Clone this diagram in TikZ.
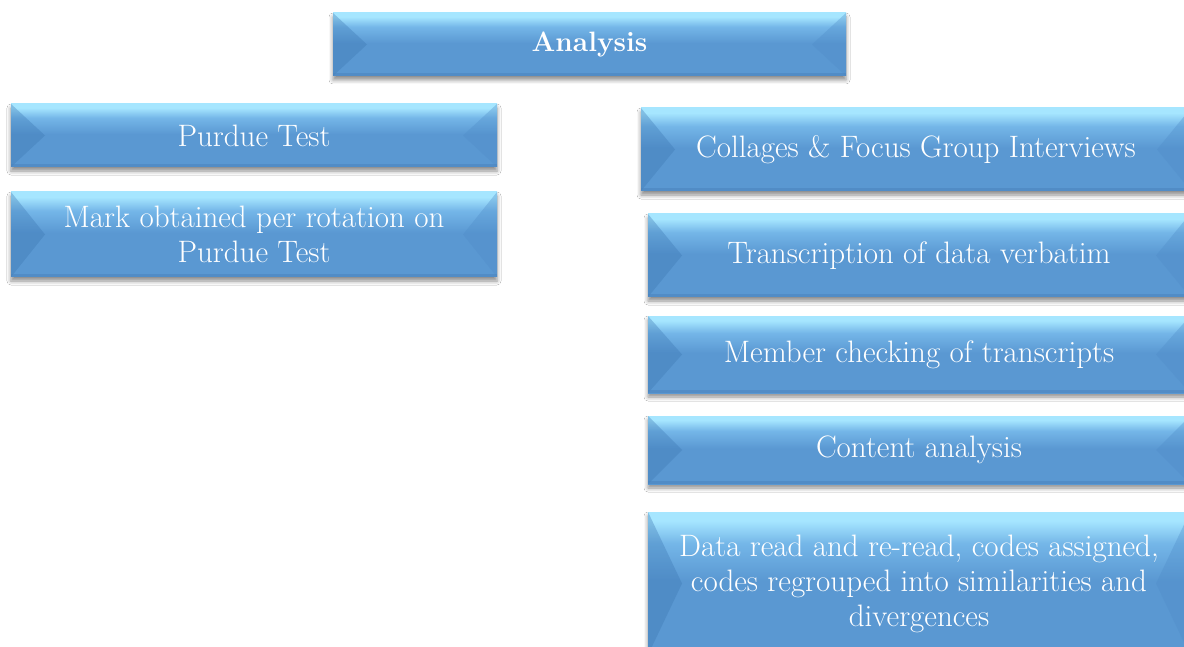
\documentclass[tikz,border=0pt]{standalone}
\usetikzlibrary{shadows.blur}
\definecolor{bevbase}{HTML}{5A98D2}
\definecolor{bevmid}{HTML}{74B6E8}
\definecolor{bevlight}{HTML}{A6E6FF}
\definecolor{bevside}{HTML}{3B76B2}
\definecolor{bevrside}{HTML}{4F8CC8}
\definecolor{bevbot}{HTML}{4A82BC}
\pgfdeclareverticalshading{bevsh}{100bp}{color(0bp)=(bevbase); color(51bp)=(bevbase); color(64bp)=(bevmid); color(72bp)=(bevlight); color(100bp)=(bevlight)}
\tikzset{
  bevbox/.style={rectangle, inner sep=0pt, align=center, text=white,
    font=\fontsize{31}{35}\selectfont, shading=bevsh,
    blur shadow={shadow xshift=0pt, shadow yshift=-4pt, shadow blur radius=4pt, shadow opacity=45},
    path picture={
      \fill[bevside, opacity=.35] (path picture bounding box.north west) -- ([xshift=34pt]path picture bounding box.west) -- (path picture bounding box.south west) -- cycle;
      \fill[bevrside, opacity=.35] (path picture bounding box.north east) -- ([xshift=-34pt]path picture bounding box.east) -- (path picture bounding box.south east) -- cycle;
      \fill[bevbot, opacity=.5] (path picture bounding box.south west) rectangle ([yshift=3pt]path picture bounding box.south east);
    }},
}
\begin{document}
\begin{tikzpicture}[x=1pt,y=-1pt]
\useasboundingbox (0,0) rectangle (1184,647);
\clip (0,0) rectangle (1184,647);
\fill[white] (0,0) rectangle (1184,647);
\node[bevbox, minimum width=513pt, minimum height=63pt, font=\fontsize{28}{32}\selectfont\bfseries] (ana) at (589.5,44.5) {Analysis};
\node[bevbox, minimum width=486pt, minimum height=63pt] (pt) at (254,135.5) {Purdue Test};
\node[bevbox, minimum width=486pt, minimum height=85pt] (mark) at (254,234.5) {Mark obtained per rotation on\\Purdue Test};
\node[bevbox, minimum width=550pt, minimum height=83pt] (col) at (916,149.5) {Collages \& Focus Group Interviews};
\node[bevbox, minimum width=542pt, minimum height=83pt] (tra) at (919,255.5) {Transcription of data verbatim};
\node[bevbox, minimum width=542pt, minimum height=77pt] (mem) at (919,354.5) {Member checking of transcripts};
\node[bevbox, minimum width=542pt, minimum height=68pt] (con) at (919,450) {Content analysis};
\node[bevbox, minimum width=542pt, minimum height=143pt] (dat) at (919,583.5) {Data read and re-read, codes assigned,\\codes regrouped into similarities and\\divergences};
\end{tikzpicture}
\end{document}
